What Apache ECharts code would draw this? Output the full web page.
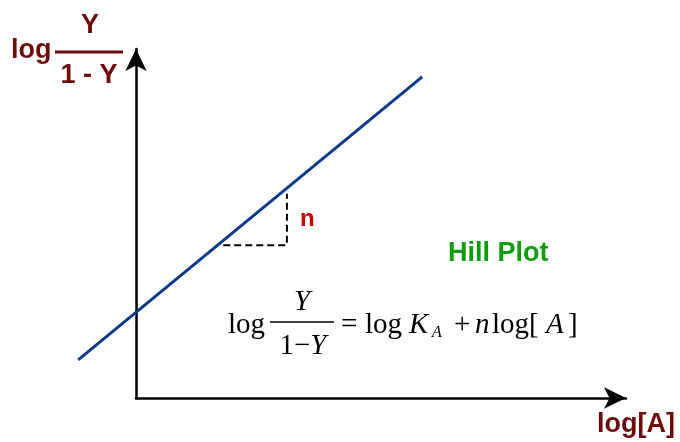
<!DOCTYPE html>
<html>
<head>
<meta charset="utf-8">
<script src="https://cdn.jsdelivr.net/npm/echarts@6/dist/echarts.min.js"></script>
<style>
  html, body { margin: 0; padding: 0; background: #ffffff; }
  #chart { width: 680px; height: 442px; }
</style>
</head>
<body>
<div id="chart"></div>
<script>
// Hill plot: log(Y/(1-Y)) against log[A]
const logA = [-1.18, 5.84];
const logRatio = [1.09, 9.20];

// slope triangle (run then rise)
const stepX = [1.78, 3.08, 3.08];
const stepY = [4.38, 4.38, 5.85];

// axis ranges: the drawn axes start at the origin, the data frame
// extends a little further left so the fitted line can cross the y axis
const axisX = [0, 10];
const dataX = [-1.3, 10];
const axisY = [0, 10];

const labelColor = '#6e0c0c';
const serif = '"Liberation Serif", "Times New Roman", serif';
const sans = '"Liberation Sans", Arial, sans-serif';
const eqSize = 29;

const pairs = (xs, ys) => xs.map((x, i) => [x, ys[i]]);

function mathText(x, y, str, opts) {
  return {
    type: 'text',
    x: x, y: y,
    style: Object.assign({
      text: str,
      font: eqSize + 'px ' + serif,
      fill: '#000',
      align: 'left',
      verticalAlign: 'middle'
    }, opts || {})
  };
}

const chart = echarts.init(document.getElementById('chart'), null, { renderer: 'canvas' });

// both grids share the same pixels-per-unit
const gridTop = 49, gridBottom = 44, gridRight = 54, originLeft = 136;
const unitPx = (680 - gridRight - originLeft) / (axisX[1] - axisX[0]);
const dataLeft = originLeft - (axisX[0] - dataX[0]) * unitPx;

const hidden = {
  type: 'value',
  show: false,
  splitLine: { show: false }
};

const visibleAxis = {
  type: 'value',
  splitLine: { show: false },
  axisTick: { show: false },
  axisLabel: { show: false },
  axisLine: {
    show: true,
    onZero: false,
    symbol: ['none', 'arrow'],
    symbolSize: [16, 22],
    lineStyle: { color: '#000', width: 2.5 }
  }
};

chart.setOption({
  animation: false,
  backgroundColor: '#ffffff',
  grid: [
    { left: originLeft, right: gridRight, top: gridTop, bottom: gridBottom },
    { left: dataLeft, right: gridRight, top: gridTop, bottom: gridBottom }
  ],
  xAxis: [
    Object.assign({}, visibleAxis, { gridIndex: 0, min: axisX[0], max: axisX[1] }),
    Object.assign({}, hidden, { gridIndex: 1, min: dataX[0], max: dataX[1] })
  ],
  yAxis: [
    Object.assign({}, visibleAxis, { gridIndex: 0, min: axisY[0], max: axisY[1] }),
    Object.assign({}, hidden, { gridIndex: 1, min: axisY[0], max: axisY[1] })
  ],
  series: [
    {
      type: 'line',
      xAxisIndex: 1, yAxisIndex: 1,
      data: pairs(logA, logRatio),
      symbol: 'none',
      z: 5,
      lineStyle: { color: '#0a3a8c', width: 3 }
    },
    {
      type: 'line',
      xAxisIndex: 1, yAxisIndex: 1,
      data: pairs(stepX, stepY),
      symbol: 'none',
      lineStyle: { color: '#000', width: 2, type: [7, 4] }
    }
  ],
  graphic: [
    // y-axis title: log Y / (1 - Y)
    { type: 'text', x: 11, y: 51, style: { text: 'log', font: 'bold 27px ' + sans, fill: labelColor, verticalAlign: 'middle' } },
    { type: 'text', x: 90, y: 26, style: { text: 'Y', font: 'bold 27px ' + sans, fill: labelColor, align: 'center', verticalAlign: 'middle' } },
    { type: 'line', shape: { x1: 55, y1: 52, x2: 123, y2: 52 }, style: { stroke: labelColor, lineWidth: 3 } },
    { type: 'text', x: 89, y: 76, style: { text: '1 - Y', font: 'bold 27px ' + sans, fill: labelColor, align: 'center', verticalAlign: 'middle' } },

    // x-axis title
    { type: 'text', x: 597, y: 425, style: { text: 'log[A]', font: 'bold 27px ' + sans, fill: labelColor, verticalAlign: 'middle' } },

    // slope label
    { type: 'text', x: 300, y: 219, style: { text: 'n', font: 'bold 24px ' + sans, fill: '#c80000', verticalAlign: 'middle' } },

    // plot title
    { type: 'text', x: 448, y: 254, style: { text: 'Hill Plot', font: 'bold 27px ' + sans, fill: '#0c9c0c', verticalAlign: 'middle' } },

    // equation: log Y/(1-Y) = log K_A + n log[A]
    mathText(228, 325, 'log'),
    mathText(302, 302, 'Y', { font: 'italic ' + eqSize + 'px ' + serif, align: 'center' }),
    { type: 'line', shape: { x1: 270, y1: 322, x2: 334, y2: 322 }, style: { stroke: '#000', lineWidth: 1.5 } },
    {
      type: 'text', x: 303, y: 346,
      style: {
        text: '{r|1\u2212}{i|Y}',
        align: 'center', verticalAlign: 'middle',
        rich: {
          r: { font: eqSize + 'px ' + serif, fill: '#000' },
          i: { font: 'italic ' + eqSize + 'px ' + serif, fill: '#000' }
        }
      }
    },
    mathText(341, 325, '='),
    mathText(365, 325, 'log'),
    mathText(409, 325, 'K', { font: 'italic ' + eqSize + 'px ' + serif }),
    mathText(432, 333, 'A', { font: 'italic 16px ' + serif }),
    mathText(454, 325, '+'),
    mathText(475, 325, 'n', { font: 'italic ' + eqSize + 'px ' + serif }),
    mathText(492, 325, 'log['),
    mathText(546, 325, 'A', { font: 'italic ' + eqSize + 'px ' + serif }),
    mathText(568, 325, ']')
  ]
});
</script>
</body>
</html>
